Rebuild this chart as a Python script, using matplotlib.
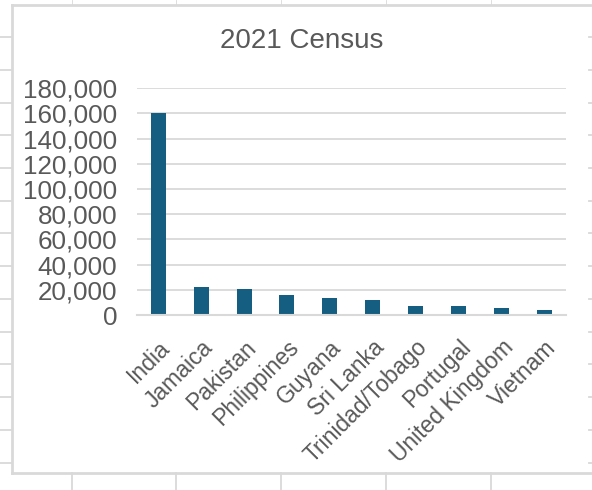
import matplotlib
matplotlib.use("Agg")
import matplotlib.pyplot as plt
from matplotlib.lines import Line2D
from matplotlib.ticker import FuncFormatter

# values
countries = ["India", "Jamaica", "Pakistan", "Philippines", "Guyana", "Sri Lanka",
             "Trinidad/Tobago", "Portugal", "United Kingdom", "Vietnam"]
people = [160000, 22000, 20500, 15500, 13800, 12000, 7000, 7000, 5300, 4200]
y_ticks = [0, 20000, 40000, 60000, 80000, 100000, 120000, 140000, 160000, 180000]

bar_color = "#155E81"
text_color = "#595959"
grid_color = "#D9D9D9"

plt.rcParams['font.family'] = ['Liberation Sans', 'DejaVu Sans']

W, H = 592, 490
fig = plt.figure(figsize=(W / 100, H / 100), dpi=100)
fig.patch.set_facecolor("white")

# spreadsheet cell lines around the chart object
def fig_line(x0, y0, x1, y1, lw=1.3):
  fig.add_artist(Line2D([x0 / W, x1 / W], [1 - y0 / H, 1 - y1 / H],
                        color=grid_color, lw=lw, transform=fig.transFigure))

for yy in [37.3, 70, 102.7, 135, 168.3, 201, 233.3, 266, 299, 331.7, 364.3, 396.7, 430, 463.3]:
  fig_line(0, yy, 12, yy)
  fig_line(589, yy, 592, yy)
for xx in [72, 176, 281, 386, 491]:
  fig_line(xx, 473, xx, 490)
  fig_line(xx, 0, xx, 5, lw=0.6)
fig_line(12, 5, 592, 5, lw=2)
fig_line(12, 473, 592, 473, lw=2)
fig_line(12, 5, 12, 473, lw=2)

ax = fig.add_axes([136.7 / W, 1 - 315 / H, (566 - 136.7) / W, (315 - 88.3) / H])
ax.bar(range(len(countries)), people, width=0.35, color=bar_color, zorder=2)

ax.set_xlim(-0.5, len(countries) - 0.5)
ax.set_ylim(0, 180000)
ax.set_yticks(y_ticks)
ax.yaxis.set_major_formatter(FuncFormatter(lambda v, p: "{:,.0f}".format(v)))
ax.grid(axis="y", color=grid_color, lw=1.3, zorder=0)
ax.set_axisbelow(True)
for s in ["top", "right", "left"]:
  ax.spines[s].set_visible(False)
ax.spines["bottom"].set_color(grid_color)
ax.spines["bottom"].set_linewidth(1.5)
ax.spines["bottom"].set_zorder(3)

ax.tick_params(axis="y", length=0, pad=14, labelsize=18.7, labelcolor=text_color)
ax.tick_params(axis="x", length=0, pad=15, labelcolor=text_color)
ax.set_xticks(range(len(countries)))
ax.set_xticklabels(countries, rotation=45, ha="right", va="top",
                   rotation_mode="anchor", fontsize=16.5)

fig.text(301.7 / W, 1 - 41 / H, "2021 Census", ha="center", va="center",
         fontsize=20, color=text_color)

plt.savefig("out.png", dpi=100)
